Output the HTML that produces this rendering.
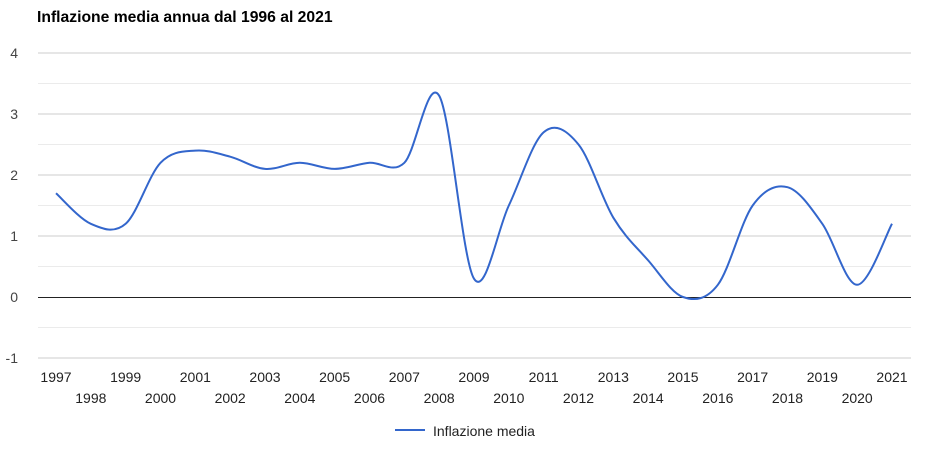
<!DOCTYPE html>
<html><head><meta charset="utf-8">
<style>
body{margin:0;background:#fff;font-family:"Liberation Sans",Arial,sans-serif;}
svg text{font-family:"Liberation Sans",Arial,sans-serif;}
</style></head>
<body>
<svg id="chart" width="931" height="445">
<text x="37" y="22" font-size="15.7" font-weight="bold" fill="#000">Inflazione media annua dal 1996 al 2021</text>
<g id="grid"></g>
<g id="xlabels"></g>
<path id="line" fill="none" stroke="#3366cc" stroke-width="2"></path>
<g>
<line x1="395" y1="430" x2="425" y2="430" stroke="#3366cc" stroke-width="2"></line>
<text x="433" y="436" font-size="14" fill="#222">Inflazione media</text>
</g>
</svg>
<script>
const years=[1997,1998,1999,2000,2001,2002,2003,2004,2005,2006,2007,2008,2009,2010,2011,2012,2013,2014,2015,2016,2017,2018,2019,2020,2021];
const values=[1.7,1.2,1.2,2.2,2.4,2.3,2.1,2.2,2.1,2.2,2.2,3.3,0.3,1.5,2.7,2.5,1.3,0.6,0.0,0.2,1.5,1.8,1.2,0.2,1.2];
const yTicks=[-1,0,1,2,3,4];
const NS="http://www.w3.org/2000/svg";
const x0=56,x1=892,plotL=38,plotR=911;
const xs=i=>x0+(x1-x0)*i/(years.length-1);
const ys=v=>297-61*v;
const grid=document.getElementById('grid');
for(let v=-1;v<=4;v+=0.5){
 const l=document.createElementNS(NS,'line');
 
 
 l.setAttribute('x1',plotL);l.setAttribute('x2',plotR);
 const yy=v===0?297.5:ys(v);
 l.setAttribute('y1',yy);l.setAttribute('y2',yy);
 l.setAttribute('stroke',v===0?'#222':(Number.isInteger(v)?'#ccc':'#ebebeb'));
 l.setAttribute('stroke-width','1');
 grid.appendChild(l);
}
yTicks.forEach(v=>{
 const t=document.createElementNS(NS,'text');
 
 
 t.setAttribute('x',18);t.setAttribute('y',ys(v)+5);
 t.setAttribute('text-anchor','end');t.setAttribute('font-size','14');t.setAttribute('fill','#444');
 t.textContent=v;grid.appendChild(t);
});
const xl=document.getElementById('xlabels');
years.forEach((y,i)=>{
 const t=document.createElementNS(NS,'text');
 
 
 t.setAttribute('x',xs(i));t.setAttribute('y',i%2===0?382:403);
 t.setAttribute('text-anchor','middle');t.setAttribute('font-size','14');t.setAttribute('fill','#222');
 t.textContent=y;xl.appendChild(t);
});
const pts=values.map((v,i)=>[xs(i),ys(v)]);
let d='M'+pts[0][0]+','+pts[0][1];
for(let i=0;i<pts.length-1;i++){
 const p0=pts[Math.max(0,i-1)],p1=pts[i],p2=pts[i+1],p3=pts[Math.min(pts.length-1,i+2)];
 const k=0.5/3*2;
 const c1=[p1[0]+(p2[0]-p0[0])*k/2,p1[1]+(p2[1]-p0[1])*k/2];
 const c2=[p2[0]-(p3[0]-p1[0])*k/2,p2[1]-(p3[1]-p1[1])*k/2];
 d+=` C${c1[0]},${c1[1]} ${c2[0]},${c2[1]} ${p2[0]},${p2[1]}`;
}
document.getElementById('line').setAttribute('d',d);
</script>
</body></html>
